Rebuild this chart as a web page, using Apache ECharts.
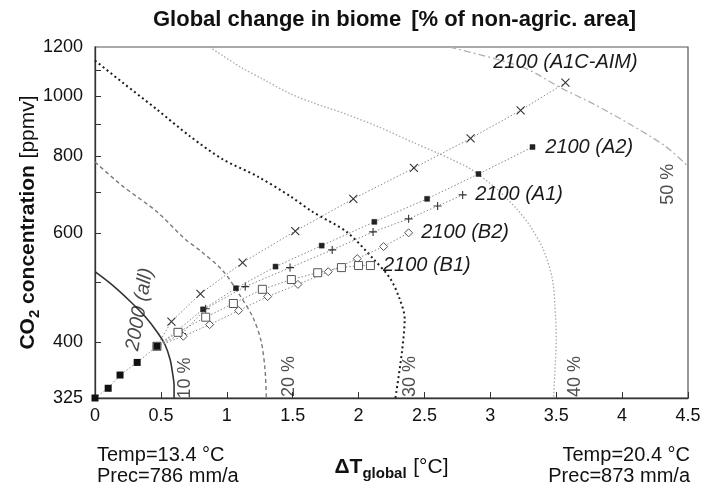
<!DOCTYPE html>
<html>
<head>
<meta charset="utf-8">
<script src="https://cdn.jsdelivr.net/npm/echarts@6/dist/echarts.min.js"></script>
<style>
html,body{margin:0;padding:0;background:#fff;}
#chart{width:706px;height:486px;}
</style>
</head>
<body>
<div id="chart"></div>
<script>
// ---------- data ----------
const yTickLabels = [325, 400, 600, 800, 1000, 1200];
const yMinorTicks = [400, 500, 600, 700, 800, 900, 1000, 1100];
const xMin = 0, xMax = 4.5, xStep = 0.5;

// observed path up to 2000 (filled squares)
const hist2000 = [[0,325],[0.10,337],[0.19,354],[0.32,371],[0.47,394]];

// scenario paths to 2100
const sA1C = [[0.47,394],[0.58,432],[0.80,479],[1.12,538],[1.52,605],[1.96,682],[2.42,765],[2.85,854],[3.23,948],[3.57,1051]];
const sA2  = [[0.47,394],[0.62,417],[0.82,452],[1.07,489],[1.37,530],[1.72,573],[2.12,626],[2.52,682],[2.91,748],[3.32,827]];
const sA1  = [[0.47,394],[0.66,413],[0.84,453],[1.14,492],[1.48,528],[1.80,564],[2.11,603],[2.38,633],[2.60,664],[2.79,692]];
const sB2  = [[0.47,394],[0.67,409],[0.87,427],[1.09,450],[1.31,474],[1.54,496],[1.77,520],[1.99,546],[2.19,571],[2.38,601]];
const sB1  = [[0.47,394],[0.63,415],[0.84,439],[1.05,462],[1.27,487],[1.49,505],[1.69,518],[1.87,528],[2.00,532],[2.09,532]];

// iso-lines of biome change
const c10 = [[0,520],[0.13,495],[0.27,465],[0.38,440],[0.47,416],[0.53,397],[0.57,375],[0.59,355],[0.60,340],[0.60,325]];
const c20 = [[0,782],[0.21,715],[0.47,650],[0.68,588],[0.80,562],[0.97,522],[1.10,476],[1.20,438],[1.26,402],[1.29,362],[1.30,325]];
const c30 = [[0,1141],[0.21,1051],[0.47,951],[0.72,861],[0.97,790],[1.23,742],[1.48,689],[1.65,650],[1.91,603],[2.11,546],[2.24,507],[2.31,471],[2.35,437],[2.33,387],[2.28,325]];
const c40 = [[0.87,1200],[1.10,1115],[1.28,1063],[1.48,1009],[1.65,976],[1.91,934],[2.16,890],[2.41,842],[2.62,805],[2.85,762],[3.05,707],[3.20,657],[3.30,617],[3.40,566],[3.47,507],[3.49,459],[3.50,406],[3.49,359],[3.48,325]];
const c50 = [[2.69,1200],[3.25,1112],[3.53,1032],[3.79,969],[4.06,900],[4.33,829],[4.50,770]];

const scenarioNames = ['2100 (A1C-AIM)','2100 (A2)','2100 (A1)','2100 (B2)','2100 (B1)'];
const contourNames = ['10 %','20 %','30 %','40 %','50 %'];
// anchor points (data space) for text annotations
const contourLabelAt = [[0.68,350],[1.47,352],[2.39,352],[3.64,352],[4.35,720]];
const label2000At = [0.34,452];

// ---------- helpers ----------
const L = v => Math.log(v);
const tr = arr => arr.map(p => [p[0], L(p[1])]);
const FONT = 'Liberation Sans, Arial, Helvetica, sans-serif';

const X_SYM = 'path://M0,0L10,10M10,0L0,10';
const P_SYM = 'path://M5,0L5,10M0,5L10,5';

function scenario(data, name, sym, size, itemStyle, labelPos, labelDist) {
  const d = tr(data).map((p, i, a) => {
    const o = {value: p};
    if (i === a.length - 1) {
      o.label = {show: true, formatter: name, position: labelPos, distance: labelDist,
        fontFamily: FONT, fontStyle: 'italic', fontSize: 20, color: '#1a1a1a'};
    }
    return o;
  });
  return {
    type: 'line', data: d, z: 5,
    symbol: sym, symbolSize: size, showSymbol: true,
    lineStyle: {color: '#8a8a8a', width: 1, type: [1.5, 2]},
    itemStyle: itemStyle,
    animation: false, silent: true
  };
}

function contour(data, color, width, type) {
  return {
    type: 'line', data: tr(data), z: 3, symbol: 'none', smooth: 0.3,
    lineStyle: {color: color, width: width, type: type},
    animation: false, silent: true
  };
}

const series = [
  contour(c20, '#7a7a7a', 1.4, [4, 3]),
  contour(c30, '#1e1e1e', 2, [2, 3]),
  contour(c40, '#a8a8a8', 1.3, [1.5, 2]),
  contour(c50, '#b0b0b0', 1.3, [7, 3, 2, 3]),
  contour(c10, '#333333', 1.6, 'solid'),
  scenario(sA1C, scenarioNames[0], X_SYM, 8, {color: 'none', borderColor: '#333', borderWidth: 1.1}, 'top', 4),
  scenario(sA2, scenarioNames[1], 'rect', 5, {color: '#222', borderColor: '#222', borderWidth: 0.5}, 'right', 10),
  scenario(sA1, scenarioNames[2], P_SYM, 8, {color: 'none', borderColor: '#333', borderWidth: 1.1}, 'right', 6),
  scenario(sB2, scenarioNames[3], 'diamond', 8, {color: '#fff', borderColor: '#555', borderWidth: 1}, 'right', 8),
  scenario(sB1, scenarioNames[4], 'rect', 8, {color: '#fff', borderColor: '#555', borderWidth: 1}, 'right', 8),
  {
    type: 'line', data: tr(hist2000), z: 6, symbol: 'rect', symbolSize: 7,
    lineStyle: {color: '#8a8a8a', width: 1, type: [1.5, 2]},
    itemStyle: {color: '#111'}, animation: false, silent: true
  },
  {
    type: 'scatter', z: 7, symbolSize: 0, animation: false, silent: true,
    data: contourLabelAt.map((p, i) => ({value: [p[0], L(p[1])], name: contourNames[i]})),
    label: {show: true, position: 'inside', rotate: 90, formatter: '{b}',
      fontFamily: FONT, fontSize: 18, color: '#222'}
  },
  {
    type: 'scatter', z: 7, symbolSize: 0, animation: false, silent: true,
    data: [{value: [label2000At[0], L(label2000At[1])], name: '2000 (all)'}],
    label: {show: true, position: 'inside', rotate: 80, formatter: '{b}',
      fontFamily: FONT, fontSize: 20, fontStyle: 'italic', color: '#1a1a1a'}
  }
];

const option = {
  backgroundColor: '#fff',
  animation: false,
  title: {
    text: '{b|Global change in biome}  {n|[% of non-agric. area]}',
    left: 148, top: 4,
    textStyle: {
      rich: {
        b: {fontFamily: FONT, fontWeight: 'bold', fontSize: 22, color: '#111'},
        n: {fontFamily: FONT, fontSize: 22, color: '#111'}
      }
    }
  },
  grid: {left: 95, right: 18, top: 47, bottom: 86, show: true, borderColor: '#555', borderWidth: 1.2},
  xAxis: {
    type: 'value', min: xMin, max: xMax, interval: xStep,
    axisLine: {lineStyle: {color: '#333', width: 1.3}},
    axisTick: {inside: true, length: 6, lineStyle: {color: '#333'}},
    splitLine: {show: false},
    axisLabel: {margin: 9, fontFamily: FONT, fontSize: 18, color: '#111'},
    name: '{b|ΔT}{sub|global}  {n|[°C]}',
    nameLocation: 'middle', nameGap: 56,
    nameTextStyle: {
      rich: {
        b: {fontFamily: FONT, fontWeight: 'bold', fontSize: 21, color: '#111', lineHeight: 27},
        sub: {fontFamily: FONT, fontWeight: 'bold', fontSize: 15, color: '#111', lineHeight: 27, verticalAlign: 'bottom'},
        n: {fontFamily: FONT, fontSize: 21, color: '#111', lineHeight: 27}
      }
    }
  },
  yAxis: {
    type: 'value', min: L(325), max: L(1200),
    axisLine: {lineStyle: {color: '#333', width: 1.3}},
    axisTick: {inside: true, length: 6, lineStyle: {color: '#333'}, customValues: yMinorTicks.map(L)},
    splitLine: {show: false},
    axisLabel: {
      customValues: yTickLabels.map(L), margin: 12,
      fontFamily: FONT, fontSize: 18, color: '#111',
      formatter: v => String(Math.round(Math.exp(v)))
    },
    name: '{b|CO}{sub|2}{b| concentration}  {n|[ppmv]}',
    nameLocation: 'middle', nameGap: 53, nameMoveOverlap: false,
    nameTextStyle: {
      rich: {
        b: {fontFamily: FONT, fontWeight: 'bold', fontSize: 21, color: '#111', lineHeight: 27},
        sub: {fontFamily: FONT, fontWeight: 'bold', fontSize: 15, color: '#111', lineHeight: 27, verticalAlign: 'bottom'},
        n: {fontFamily: FONT, fontSize: 21, color: '#111', lineHeight: 27}
      }
    }
  },
  graphic: [
    {type: 'text', x: 97, y: 445, style: {text: 'Temp=13.4 °C\nPrec=786 mm/a', font: '20px ' + FONT, fill: '#111', lineHeight: 21, align: 'left', verticalAlign: 'top'}},
    {type: 'text', x: 690, y: 445, style: {text: 'Temp=20.4 °C\nPrec=873 mm/a', font: '20px ' + FONT, fill: '#111', lineHeight: 21, align: 'right', verticalAlign: 'top'}}
  ],
  series: series
};

const chart = echarts.init(document.getElementById('chart'), null, {renderer: 'canvas'});
chart.setOption(option);
</script>
</body>
</html>
